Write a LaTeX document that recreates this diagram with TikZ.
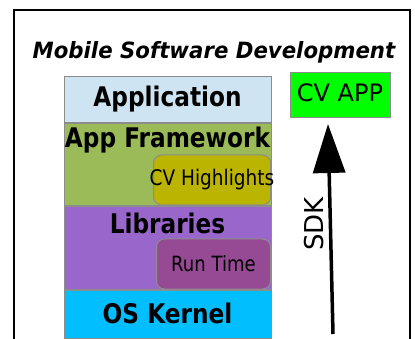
\documentclass[tikz,border=0pt]{standalone}
\usepackage{fontspec}
\setmainfont{DejaVu Sans}
\newfontfamily\titlefont[FakeStretch=0.95]{DejaVu Sans}
\newfontfamily\stackfont[FakeStretch=0.86]{DejaVu Sans}
\usetikzlibrary{arrows.meta,positioning}
\definecolor{appblue}{RGB}{207,228,242}
\definecolor{fwgreen}{RGB}{155,187,89}
\definecolor{hlolive}{RGB}{187,180,0}
\definecolor{libpurple}{RGB}{153,102,204}
\definecolor{rtplum}{RGB}{150,74,148}
\definecolor{kernelcyan}{RGB}{0,190,255}
\definecolor{cvgreen}{RGB}{0,255,0}
\definecolor{edgegray}{RGB}{140,140,140}

\begin{document}
\begin{tikzpicture}[
  x=1pt, y=-1pt,
  layer/.style={rectangle, draw=edgegray, line width=1pt, minimum width=207pt, inner sep=0pt},
  layertext/.style={font=\stackfont\bfseries\fontsize{27}{30}\selectfont, inner sep=0pt, anchor=base},
  addon/.style={rectangle, rounded corners=8pt, draw=edgegray, line width=1pt, inner sep=0pt, anchor=south east},
]
\useasboundingbox (0,0) rectangle (415,339);

% outer frame, cut off at the bottom
\begin{scope}
  \clip (0,0) rectangle (415,339);
  \draw[line width=1.5pt] (14,10) rectangle (410,360);
\end{scope}

\node[font=\titlefont\bfseries\itshape\fontsize{22.4}{26}\selectfont, inner sep=0pt, anchor=base] (title) at (214,59) {Mobile Software Development};

% the software stack
\node[layer, fill=appblue, minimum height=46pt, anchor=north] (app) at (167.5,76) {};
\node[layer, fill=fwgreen, minimum height=82pt, below=0pt of app] (fw) {};
\node[layer, fill=libpurple, minimum height=83pt, below=0pt of fw] (libs) {};
\node[layer, fill=kernelcyan, minimum height=48pt, below=0pt of libs] (kernel) {};

\node[layertext] (applabel) at ([yshift=-31pt]app.north) {Application};
\node[layertext] (fwlabel) at ([yshift=-25pt]fw.north) {App Framework};
\node[layertext] (libslabel) at ([yshift=-27.7pt]libs.north) {Libraries};
\node[layertext] (kernellabel) at ([yshift=-33.7pt]kernel.north) {OS Kernel};

% CV parts sitting inside the stack
\node[addon, fill=hlolive, minimum width=117pt, minimum height=50pt, font=\stackfont\fontsize{21.5}{24}\selectfont] (hl) at ([xshift=-0.5pt,yshift=0.5pt]fw.south east) {\makebox[0pt]{CV Highlights}};
\node[addon, fill=rtplum, minimum width=114pt, minimum height=50pt, font=\stackfont\fontsize{21}{24}\selectfont] (rt) at ([xshift=-0.5pt,yshift=0.5pt]libs.south east) {\makebox[0pt]{Run Time}};

% the app on top of the SDK
\node[rectangle, draw=edgegray, line width=1pt, fill=cvgreen, minimum width=100pt, minimum height=45pt, inner sep=0pt, font=\fontsize{24}{28}\selectfont] (cvapp) at (340,95) {\raisebox{4.5pt}{CV APP}};

\coordinate (sdkfoot) at (333,334);
\coordinate (sdktip) at ([xshift=-12pt,yshift=-6pt]cvapp.south);
\draw[-{Triangle[length=49pt,width=32pt]}, line width=3.5pt] (sdkfoot) -- (sdktip);
\node[rotate=90, anchor=base, inner sep=0pt, font=\fontsize{26}{30}\selectfont] (sdk) at (323,224) {SDK};

\end{tikzpicture}
\end{document}
